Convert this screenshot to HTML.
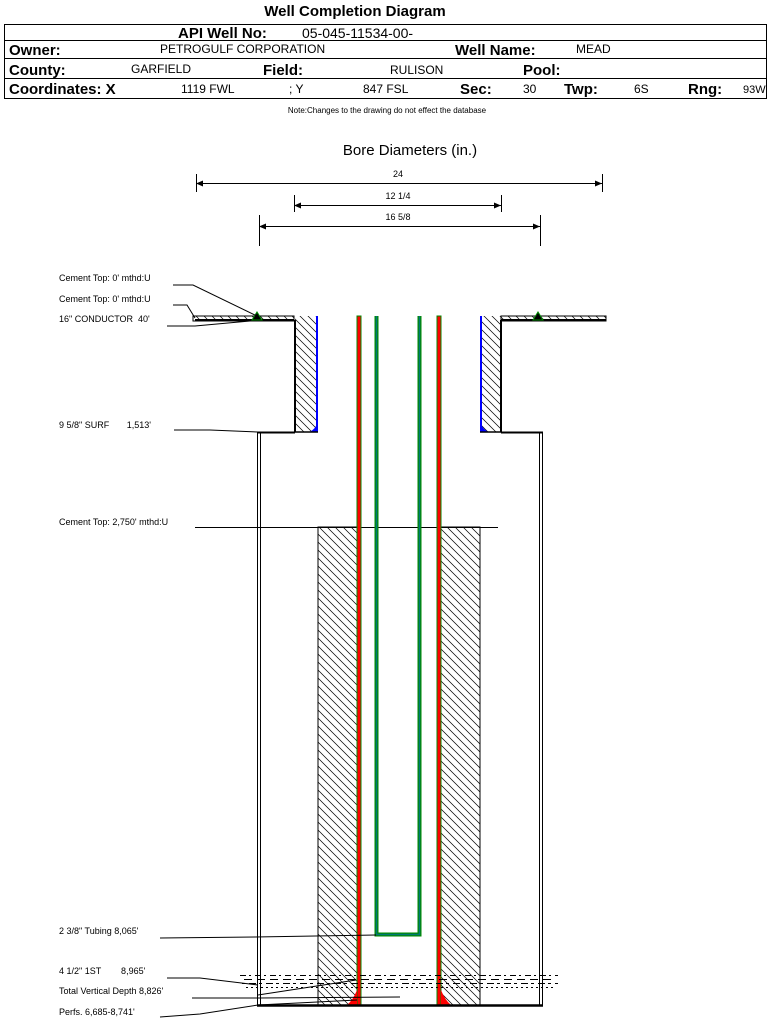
<!DOCTYPE html>
<html><head><meta charset="utf-8"><style>
html,body{margin:0;padding:0;background:#fff;}
svg{display:block;}
text{font-family:"Liberation Sans",Arial,sans-serif;fill:#000;white-space:pre;}
</style></head><body>
<svg width="769" height="1020" viewBox="0 0 769 1020" xmlns="http://www.w3.org/2000/svg">
<defs>
<pattern id="h" patternUnits="userSpaceOnUse" width="8" height="8">
<path d="M-1,-1 L9,9 M-1,7 L1,9 M7,-1 L9,1" stroke="#000" stroke-width="0.7"/>
</pattern>
</defs>
<!-- header -->
<text x="355" y="16" font-size="15" font-weight="bold" text-anchor="middle">Well Completion Diagram</text>
<rect x="4.5" y="24.5" width="762" height="74" fill="none" stroke="#000"/>
<line x1="4" y1="40.5" x2="767" y2="40.5" stroke="#000"/>
<line x1="4" y1="58.5" x2="767" y2="58.5" stroke="#000"/>
<line x1="4" y1="78.5" x2="767" y2="78.5" stroke="#000"/>
<text x="178" y="38" font-size="15" font-weight="bold">API Well No:</text>
<text x="302" y="38" font-size="14">05-045-11534-00-</text>
<text x="9" y="55" font-size="15" font-weight="bold">Owner:</text>
<text x="160" y="53" font-size="12">PETROGULF CORPORATION</text>
<text x="455" y="55" font-size="15" font-weight="bold">Well Name:</text>
<text x="576" y="53" font-size="12">MEAD</text>
<text x="9" y="75" font-size="15" font-weight="bold">County:</text>
<text x="131" y="73" font-size="12">GARFIELD</text>
<text x="263" y="75" font-size="15" font-weight="bold">Field:</text>
<text x="390" y="74" font-size="12">RULISON</text>
<text x="523" y="75" font-size="15" font-weight="bold">Pool:</text>
<text x="9" y="94" font-size="15" font-weight="bold">Coordinates: X</text>
<text x="181" y="93" font-size="12">1119 FWL</text>
<text x="289" y="93" font-size="12">; Y</text>
<text x="363" y="93" font-size="12">847 FSL</text>
<text x="460" y="94" font-size="15" font-weight="bold">Sec:</text>
<text x="523" y="93" font-size="12">30</text>
<text x="564" y="94" font-size="15" font-weight="bold">Twp:</text>
<text x="634" y="93" font-size="12">6S</text>
<text x="688" y="94" font-size="15" font-weight="bold">Rng:</text>
<text x="743" y="93" font-size="11">93W</text>
<text x="387" y="113" font-size="8" text-anchor="middle">Note:Changes to the drawing do not effect the database</text>

<!-- bore diameters -->
<text x="410" y="155" font-size="15" text-anchor="middle">Bore Diameters (in.)</text>
<g stroke="#000" stroke-width="1" fill="none">
<line x1="196.5" y1="174" x2="196.5" y2="192"/><line x1="602.5" y1="174" x2="602.5" y2="192"/>
<line x1="196" y1="183.5" x2="602" y2="183.5"/>
<line x1="294.5" y1="195" x2="294.5" y2="212"/><line x1="501.5" y1="195" x2="501.5" y2="212"/>
<line x1="294" y1="205.5" x2="501" y2="205.5"/>
<line x1="259.5" y1="215" x2="259.5" y2="246"/><line x1="540.5" y1="215" x2="540.5" y2="246"/>
<line x1="259" y1="226.5" x2="540" y2="226.5"/>
</g>
<g fill="#000">
<path d="M196,183.5 l7,-3 v6z"/><path d="M602,183.5 l-7,-3 v6z"/>
<path d="M294,205.5 l7,-3 v6z"/><path d="M501,205.5 l-7,-3 v6z"/>
<path d="M259,226.5 l7,-3 v6z"/><path d="M540,226.5 l-7,-3 v6z"/>
</g>
<text x="398" y="177" font-size="9" text-anchor="middle">24</text>
<text x="398" y="199" font-size="9" text-anchor="middle">12 1/4</text>
<text x="398" y="220" font-size="9" text-anchor="middle">16 5/8</text>

<!-- conductor plates -->
<rect x="193" y="316" width="101" height="5" fill="url(#h)" stroke="#000" stroke-width="1"/>
<rect x="501" y="316" width="105" height="5" fill="url(#h)" stroke="#000" stroke-width="1"/>
<line x1="195" y1="320" x2="294" y2="320" stroke="#000" stroke-width="2"/>
<line x1="501" y1="320" x2="606" y2="320" stroke="#000" stroke-width="2"/>
<path d="M252,320 l5,-8 l5,8z" fill="#000" stroke="#080" stroke-width="1"/>
<path d="M533,320 l5,-8 l5,8z" fill="#000" stroke="#080" stroke-width="1"/>

<!-- surface cement -->
<rect x="295" y="316" width="21" height="116" fill="url(#h)"/>
<rect x="480" y="316" width="21" height="116" fill="url(#h)"/>
<line x1="295" y1="320" x2="295" y2="432" stroke="#000" stroke-width="2"/>
<line x1="501" y1="320" x2="501" y2="432" stroke="#000" stroke-width="2"/>
<rect x="316" y="316" width="2" height="116" fill="#00f"/>
<rect x="480" y="316" width="2" height="116" fill="#00f"/>
<path d="M318,432 v-10 q-3,8 -9,10z" fill="#00f"/>
<path d="M480,432 v-10 q3,8 9,10z" fill="#00f"/>
<line x1="294" y1="432" x2="318" y2="432" stroke="#000" stroke-width="1.5"/>
<line x1="480" y1="432" x2="501" y2="432" stroke="#000" stroke-width="1.5"/>
<line x1="258" y1="432.5" x2="295" y2="432.5" stroke="#000" stroke-width="2"/>
<line x1="501" y1="432.5" x2="543" y2="432.5" stroke="#000" stroke-width="2"/>

<!-- surface casing walls -->
<line x1="257.5" y1="432" x2="257.5" y2="1005" stroke="#000"/>
<line x1="260.5" y1="432" x2="260.5" y2="1005" stroke="#000"/>
<line x1="539.5" y1="432" x2="539.5" y2="1005" stroke="#000"/>
<line x1="542.5" y1="432" x2="542.5" y2="1005" stroke="#000"/>

<!-- production cement -->
<rect x="318" y="527" width="40" height="478" fill="url(#h)" stroke="#000" stroke-width="1"/>
<rect x="440" y="527" width="40" height="478" fill="url(#h)" stroke="#000" stroke-width="1"/>
<line x1="195" y1="527.5" x2="498" y2="527.5" stroke="#000"/>

<!-- production casing -->
<rect x="357" y="316" width="4" height="689" fill="#f00" stroke="#080" stroke-width="1"/>
<rect x="437" y="316" width="4" height="689" fill="#f00" stroke="#080" stroke-width="1"/>
<path d="M357,1005 v-15 q-4,10 -10,15z" fill="#f00"/>
<path d="M441,1005 v-15 q4,10 10,15z" fill="#f00"/>

<!-- tubing -->
<path d="M376.5,316 V934.5 H419.5 V316" fill="none" stroke="#080" stroke-width="4"/>
<path d="M376.5,316 V934.5 H419.5 V316" fill="none" stroke="#077" stroke-width="1.5"/>

<!-- bottom -->
<line x1="257" y1="1005.5" x2="543" y2="1005.5" stroke="#000" stroke-width="2.5"/>

<!-- noise band -->
<g stroke="#000" stroke-width="1" stroke-dasharray="6,3,2,4" fill="none">
<line x1="240" y1="975.5" x2="558" y2="975.5"/>
<line x1="244" y1="979.5" x2="556" y2="979.5" stroke-dasharray="8,5"/>
<line x1="242" y1="983.5" x2="558" y2="983.5" stroke-dasharray="3,4,7,3"/>
<line x1="246" y1="987.5" x2="555" y2="987.5" stroke-dasharray="2,3"/>
</g>

<!-- labels -->
<g font-size="9">
<text x="59" y="281">Cement Top: 0' mthd:U</text>
<text x="59" y="302">Cement Top: 0' mthd:U</text>
<text x="59" y="322">16" CONDUCTOR  40'</text>
<text x="59" y="428">9 5/8" SURF       1,513'</text>
<text x="59" y="525">Cement Top: 2,750' mthd:U</text>
<text x="59" y="934">2 3/8" Tubing 8,065'</text>
<text x="59" y="974">4 1/2" 1ST        8,965'</text>
<text x="59" y="994">Total Vertical Depth 8,826'</text>
<text x="59" y="1015">Perfs. 6,685-8,741'</text>
</g>
<g stroke="#000" stroke-width="1" fill="none">
<polyline points="173,285 193,285 257,316"/>
<polyline points="173,305 187,305 195,318"/>
<polyline points="167,326 195,326 250,321"/>
<polyline points="174,430 210,430 258,432"/>
<polyline points="160,938 255,937 376,935"/>
<polyline points="167,978 200,978 258,985"/>
<polyline points="192,998 258,998 400,997"/>
<polyline points="160,1017 200,1014 258,1005 357,1000"/>
<polyline points="258,995 356,980"/>
</g>
</svg>
</body></html>
